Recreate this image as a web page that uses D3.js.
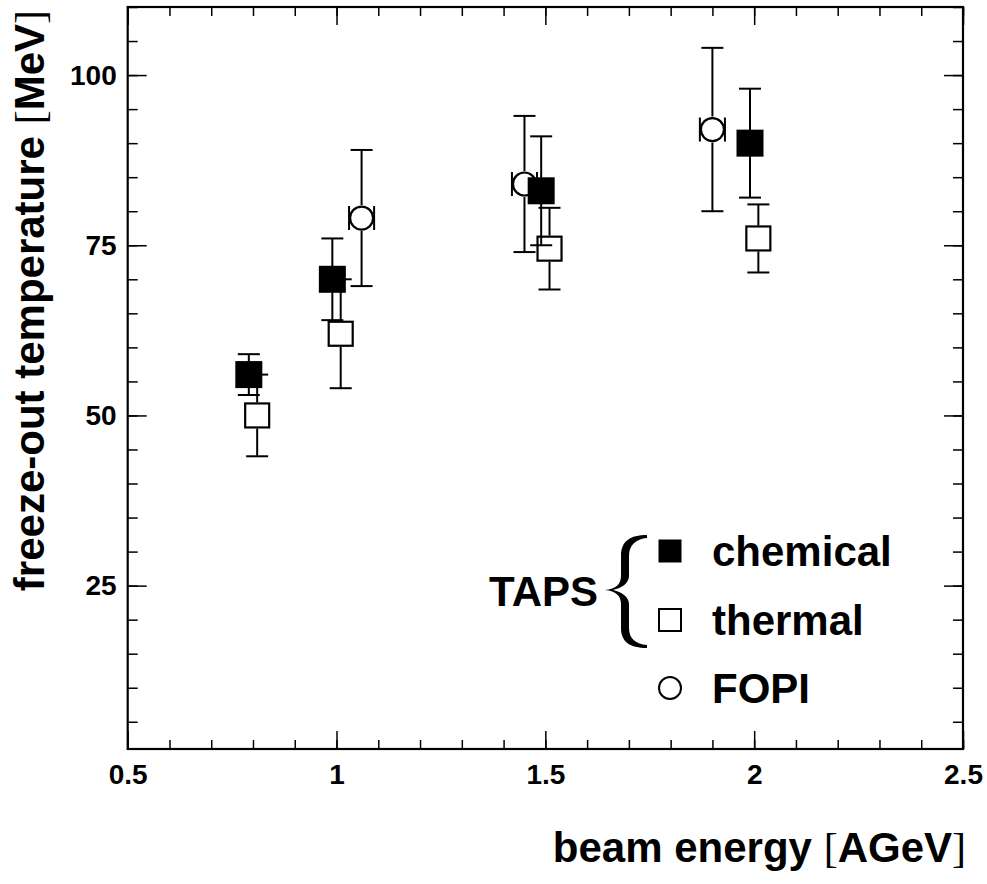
<!DOCTYPE html>
<html>
<head>
<meta charset="utf-8">
<script src="https://cdn.jsdelivr.net/npm/d3@7/dist/d3.min.js"></script>
<style>
  html, body { margin: 0; padding: 0; background: #fff; }
  svg { display: block; }
  text { font-family: "Liberation Sans", Arial, Helvetica, sans-serif; font-weight: bold; fill: #000; }
</style>
</head>
<body>
<svg id="chart" width="987" height="884"></svg>
<script>
// ---- data ----
const chemX   = [0.79, 0.99, 1.49, 1.99];
const chemY   = [56, 70, 83, 90];
const chemErr = [3, 6, 8, 8];

const thermX   = [0.81, 1.01, 1.51, 2.01];
const thermY   = [50, 62, 74.5, 76];
const thermErr = [6, 8, 6, 5];

const fopiX    = [1.06, 1.45, 1.90];
const fopiY    = [79, 84, 92];
const fopiErr  = [10, 10, 12];
const fopiXErr = [0.03, 0.03, 0.03];

const xMajorTicks = [0.5, 1, 1.5, 2, 2.5];
const xTickLabels = ["0.5", "1", "1.5", "2", "2.5"];
const yMajorTicks = [25, 50, 75, 100];
const yTickLabels = ["25", "50", "75", "100"];
const legendLabels = ["chemical", "thermal", "FOPI"];

// ---- layout ----
const L = 127.7, R = 963, T = 7, B = 749;
const svg = d3.select("#chart");
const x = d3.scaleLinear().domain([0.5, 2.5]).range([L, R]);
const y = d3.scaleLinear().domain([1, 110]).range([B, T]);

const xMinor = d3.range(5, 26).map(d => d / 10);
const yMinor = d3.range(5, 111, 5);

function styleAxis(g) {
  g.select(".domain").remove();
  g.selectAll(".tick line").attr("stroke", "#000").attr("stroke-width", 1.5);
}
function styleLabels(g) {
  g.selectAll("text").attr("font-size", 28).attr("font-family", "Liberation Sans, Arial, sans-serif")
    .attr("font-weight", "bold").attr("fill", "#000");
}

// bottom axis
svg.append("g").attr("transform", `translate(0,${B})`)
  .call(d3.axisBottom(x).tickValues(xMinor).tickSizeInner(-9).tickSizeOuter(0).tickFormat(""))
  .call(styleAxis);
svg.append("g").attr("transform", `translate(0,${B})`)
  .call(d3.axisBottom(x).tickValues(xMajorTicks).tickSizeInner(-18).tickSizeOuter(0).tickPadding(15)
    .tickFormat((d, i) => xTickLabels[i]))
  .call(styleAxis).call(styleLabels);
// top axis
svg.append("g").attr("transform", `translate(0,${T})`)
  .call(d3.axisTop(x).tickValues(xMinor).tickSizeInner(-9).tickSizeOuter(0).tickFormat(""))
  .call(styleAxis);
svg.append("g").attr("transform", `translate(0,${T})`)
  .call(d3.axisTop(x).tickValues(xMajorTicks).tickSizeInner(-18).tickSizeOuter(0).tickFormat(""))
  .call(styleAxis);
// left axis
svg.append("g").attr("transform", `translate(${L},0)`)
  .call(d3.axisLeft(y).tickValues(yMinor).tickSizeInner(-10).tickSizeOuter(0).tickFormat(""))
  .call(styleAxis);
svg.append("g").attr("transform", `translate(${L},0)`)
  .call(d3.axisLeft(y).tickValues(yMajorTicks).tickSizeInner(-19).tickSizeOuter(0).tickPadding(11)
    .tickFormat((d, i) => yTickLabels[i]))
  .call(styleAxis).call(styleLabels);
// right axis
svg.append("g").attr("transform", `translate(${R},0)`)
  .call(d3.axisRight(y).tickValues(yMinor).tickSizeInner(-10).tickSizeOuter(0).tickFormat(""))
  .call(styleAxis);
svg.append("g").attr("transform", `translate(${R},0)`)
  .call(d3.axisRight(y).tickValues(yMajorTicks).tickSizeInner(-19).tickSizeOuter(0).tickFormat(""))
  .call(styleAxis);

// frame
svg.append("rect").attr("x", L).attr("y", T).attr("width", R - L).attr("height", B - T)
  .attr("fill", "none").attr("stroke", "#000").attr("stroke-width", 2.2);

// ---- error bars + markers ----
const HALF = 13;   // marker half size (px)
const CAP = 11;    // cap half width
const g = svg.append("g");

function vErr(cx, cy, v, e) {
  const yt = y(v + e), yb = y(v - e);
  if (cy - HALF > yt) {
    g.append("line").attr("x1", cx).attr("x2", cx).attr("y1", cy - HALF).attr("y2", yt).attr("stroke", "#000").attr("stroke-width", 2);
  }
  if (yb > cy + HALF) {
    g.append("line").attr("x1", cx).attr("x2", cx).attr("y1", cy + HALF).attr("y2", yb).attr("stroke", "#000").attr("stroke-width", 2);
  }
  [yt, yb].forEach(yy => g.append("line").attr("x1", cx - CAP).attr("x2", cx + CAP).attr("y1", yy).attr("y2", yy).attr("stroke", "#000").attr("stroke-width", 2));
}
function hErr(cx, cy, xv, xe) {
  [x(xv - xe), x(xv + xe)].forEach(xx => g.append("line").attr("x1", xx).attr("x2", xx).attr("y1", cy - 12).attr("y2", cy + 12).attr("stroke", "#000").attr("stroke-width", 2));
}

// thermal (open squares)
thermX.forEach((xv, i) => {
  const cx = x(xv), cy = y(thermY[i]);
  vErr(cx, cy, thermY[i], thermErr[i]);
  g.append("rect").attr("x", cx - 12).attr("y", cy - 12).attr("width", 24).attr("height", 24)
    .attr("fill", "none").attr("stroke", "#000").attr("stroke-width", 2.2);
});
// FOPI (open circles)
fopiX.forEach((xv, i) => {
  const cx = x(xv), cy = y(fopiY[i]);
  vErr(cx, cy, fopiY[i], fopiErr[i]);
  hErr(cx, cy, xv, fopiXErr[i]);
  g.append("circle").attr("cx", cx).attr("cy", cy).attr("r", 11.5)
    .attr("fill", "none").attr("stroke", "#000").attr("stroke-width", 2.2);
});
// chemical (filled squares)
chemX.forEach((xv, i) => {
  const cx = x(xv), cy = y(chemY[i]);
  vErr(cx, cy, chemY[i], chemErr[i]);
  g.append("rect").attr("x", cx - 13.5).attr("y", cy - 13.5).attr("width", 27).attr("height", 27)
    .attr("fill", "#000");
});

// ---- legend ----
const lg = svg.append("g");
const lx = 670, ly = [551, 620, 688], tx = 712;
lg.append("rect").attr("x", lx - 11.5).attr("y", ly[0] - 11.5).attr("width", 23).attr("height", 23).attr("fill", "#000");
lg.append("rect").attr("x", lx - 11).attr("y", ly[1] - 11).attr("width", 22).attr("height", 22).attr("fill", "none").attr("stroke", "#000").attr("stroke-width", 2);
lg.append("circle").attr("cx", lx).attr("cy", ly[2]).attr("r", 11).attr("fill", "none").attr("stroke", "#000").attr("stroke-width", 2);
legendLabels.forEach((t, i) => {
  lg.append("text").attr("x", tx).attr("y", ly[i] + 15).attr("font-size", 42).text(t);
});
lg.append("text").attr("x", 598).attr("y", 606).attr("text-anchor", "end").attr("font-size", 42).text("TAPS");
// brace
lg.append("path")
  .attr("d", "M647,535 C630,535 621,541 621,556 L621,576 C621,584 616,589 605,590 C616,591 621,596 621,604 L621,628 C621,642 630,648 647,648 L647,645 C636,644 629,639 629,628 L629,604 C629,597 622,592 613,590 C622,588 629,583 629,576 L629,556 C629,545 636,539 647,538 Z")
  .attr("fill", "#000");

// ---- axis titles ----
const xt = svg.append("text").attr("x", 966).attr("y", 862).attr("text-anchor", "end").attr("font-size", 42);
xt.append("tspan").text("beam energy ");
xt.append("tspan").attr("font-weight", "normal").attr("font-family", "Liberation Serif, serif").text("[");
xt.append("tspan").text("AGeV");
xt.append("tspan").attr("font-weight", "normal").attr("font-family", "Liberation Serif, serif").text("]");

const yt = svg.append("text").attr("transform", "translate(44,10) rotate(-90)").attr("text-anchor", "end").attr("font-size", 42);
yt.append("tspan").text("freeze-out temperature ");
yt.append("tspan").attr("font-weight", "normal").attr("font-family", "Liberation Serif, serif").text("[");
yt.append("tspan").text("MeV");
yt.append("tspan").attr("font-weight", "normal").attr("font-family", "Liberation Serif, serif").text("]");
</script>
</body>
</html>
